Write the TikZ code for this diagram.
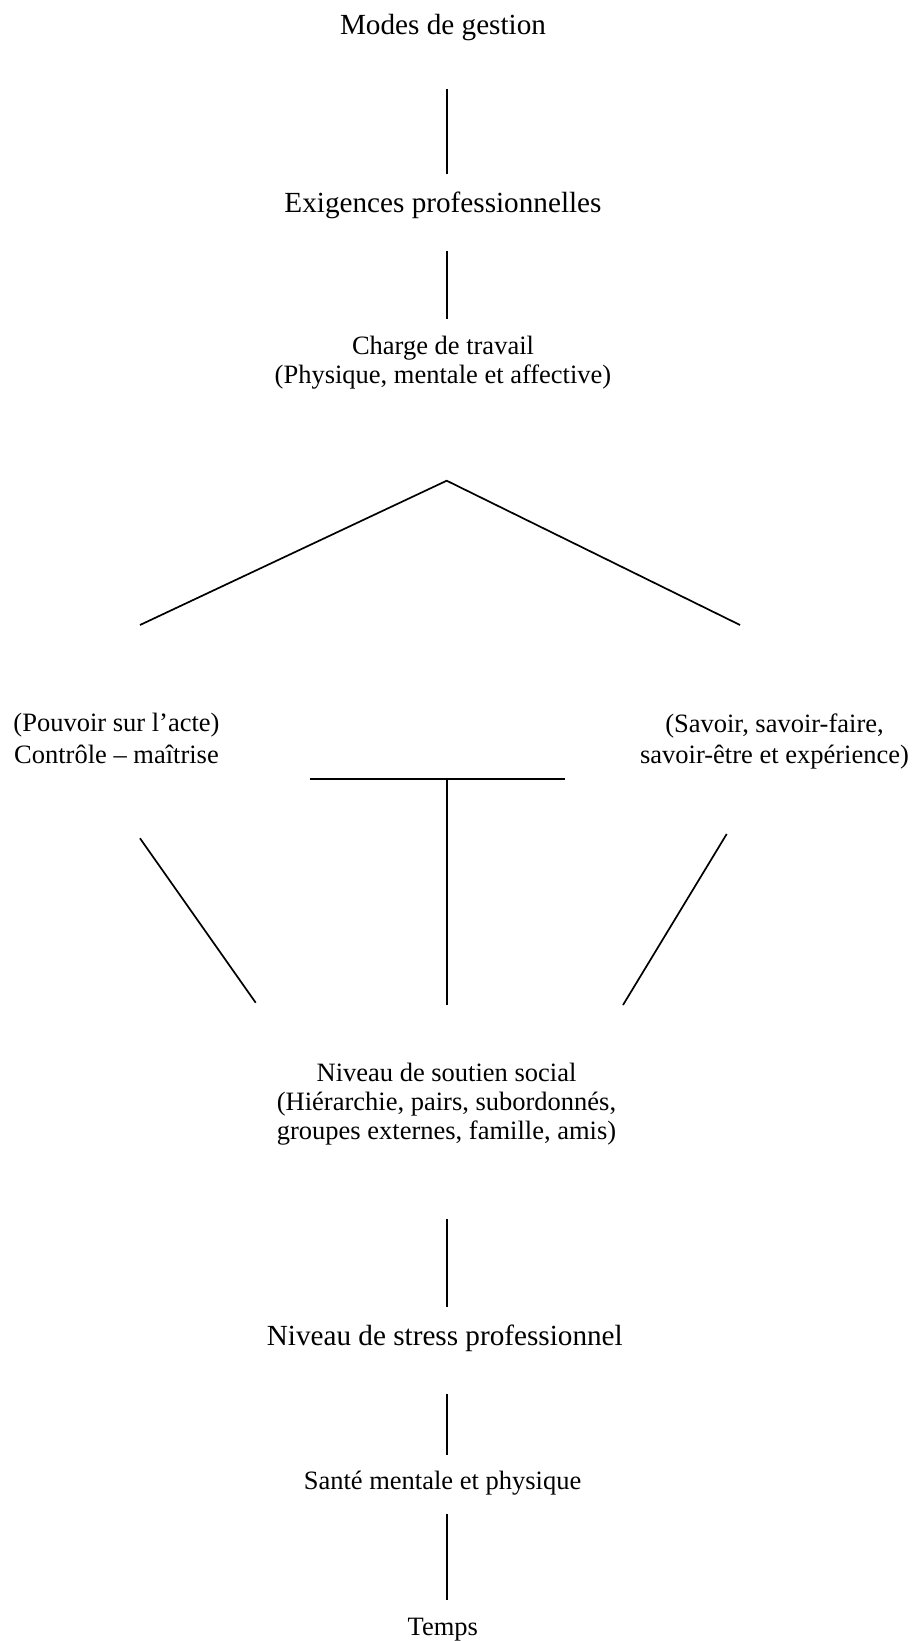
\documentclass[tikz,border=0pt]{standalone}
\usepackage{fontspec}
\setmainfont{Liberation Serif}
\begin{document}
\begin{tikzpicture}[x=0.5pt,y=-0.5pt,
  lbl/.style={inner sep=0pt, anchor=base, align=center,
    font=\fontsize{13.25pt}{14.5pt}\selectfont},
  biglbl/.style={lbl, font=\fontsize{14.6pt}{16pt}\selectfont},
  sidelbl/.style={lbl, font=\fontsize{13.25pt}{15.75pt}\selectfont},
  link/.style={line width=0.85pt, black},
  bar/.style={line width=1.2pt, black}]
\useasboundingbox (0,0) rectangle (914,1641);

% labels (a multi-line node sits on the baseline of its last line)
\node[biglbl] (modes) at (443,35) {Modes de gestion};
\node[biglbl] (exig) at (443,212.5) {Exigences professionnelles};
\node[lbl] (charge) at (443,384) {Charge de travail\\(Physique, mentale et affective)};
\node[sidelbl] (controle) at (116.5,763) {(Pouvoir sur l’acte)\\Contrôle – maîtrise};
\node[sidelbl] (savoir) at (774.5,763.5) {(Savoir, savoir-faire,\\savoir-être et expérience)};
\node[lbl] (soutien) at (446.5,1139.5) {Niveau de soutien social\\(Hiérarchie, pairs, subordonnés,\\groupes externes, famille, amis)};
\node[biglbl] (stress) at (444.8,1345.5) {Niveau de stress professionnel};
\node[lbl] (sante) at (442.5,1489.5) {Santé mentale et physique};
\node[lbl] (temps) at (442.8,1635) {Temps};

% connector end points
\coordinate (m1) at (446.7,89);   \coordinate (m2) at (446.7,174);
\coordinate (e1) at (446.7,251);  \coordinate (e2) at (446.7,319);
\coordinate (apex) at (446.7,480.7);
\coordinate (vl) at (140,625);    \coordinate (vr) at (740,625);
\coordinate (tl) at (310,779);    \coordinate (tr) at (565,779);
\coordinate (tm) at (446.7,779);  \coordinate (tb) at (446.7,1005);
\coordinate (dl1) at (140,838.3); \coordinate (dl2) at (255.7,1002.7);
\coordinate (dr1) at (726.7,834); \coordinate (dr2) at (623,1005);
\coordinate (s1) at (446.7,1219); \coordinate (s2) at (446.7,1307);
\coordinate (h1) at (446.7,1394); \coordinate (h2) at (446.7,1455);
\coordinate (t1) at (446.7,1514); \coordinate (t2) at (446.7,1600);

% connectors
\draw[link] (m1) -- (m2);
\draw[link] (e1) -- (e2);
\draw[link] (vl) -- (apex) -- (vr);
\draw[bar] (tl) -- (tr);
\draw[link] (tm) -- (tb);
\draw[link] (dl1) -- (dl2);
\draw[link] (dr1) -- (dr2);
\draw[link] (s1) -- (s2);
\draw[link] (h1) -- (h2);
\draw[link] (t1) -- (t2);
\end{tikzpicture}
\end{document}
